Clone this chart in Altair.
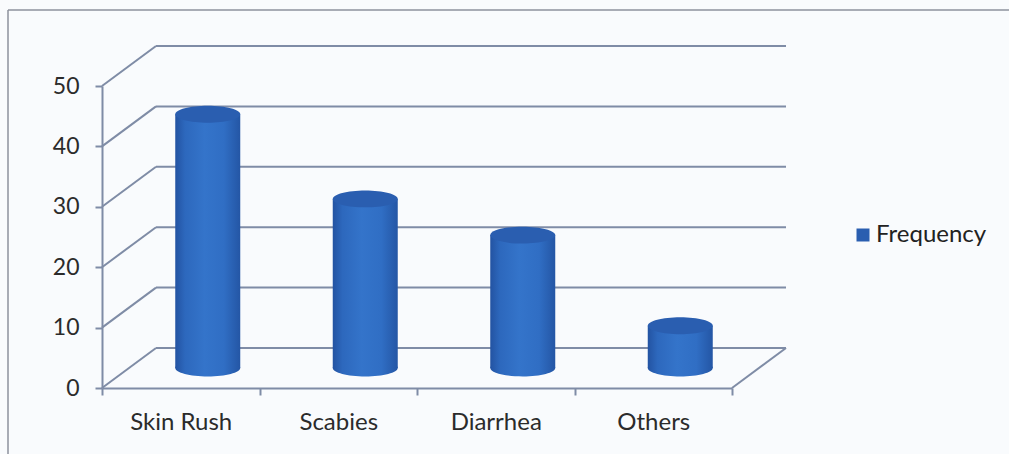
import altair as alt
import pandas as pd

# Values
categories = ["Skin Rush", "Scabies", "Diarrhea", "Others"]
frequency = [42, 28, 22, 7]
y_ticks = [0, 10, 20, 30, 40, 50]
series_name = "Frequency"

# Layout constants (pixels)
PLOT_W, PLOT_H = 630, 302
DEPTH_X, DEPTH_Y = 54, -40          # offset of the back wall
HALF_X, HALF_Y = 27, -20            # cylinders sit at mid depth
CYL_W = 65
FONT = "Lato"
LINE = "#7f8ca6"

bars = pd.DataFrame({"cat": categories, "freq": frequency, "series": series_name})
ticks = pd.DataFrame({"v": y_ticks})
one = pd.DataFrame({"v": [0]})

x_scale = alt.Scale(domain=categories, paddingInner=0, paddingOuter=0)
y_scale = alt.Scale(domain=[0, 50], nice=False, zero=True)

body_fill = alt.Gradient(
    gradient="linear", x1=0, x2=1, y1=0, y2=0,
    stops=[
        alt.GradientStop(color="#2353a2", offset=0),
        alt.GradientStop(color="#2d68bd", offset=0.15),
        alt.GradientStop(color="#3474ca", offset=0.45),
        alt.GradientStop(color="#306ec4", offset=0.75),
        alt.GradientStop(color="#2456a5", offset=1),
    ],
)
ellipse = "M-1,0A1,0.26,0,1,0,1,0A1,0.26,0,1,0,-1,0Z"

# Outer frame of the chart area
frame_left = alt.Chart(one).mark_rule(color="#8d929c", strokeWidth=1.5).encode(
    x=alt.value(-94), y=alt.value(-76), y2=alt.value(380)
)
frame_top = alt.Chart(one).mark_rule(color="#8d929c", strokeWidth=1.5).encode(
    x=alt.value(-94), x2=alt.value(910), y=alt.value(-76)
)

# Back wall gridlines (also the back edge of the floor)
grid = alt.Chart(ticks).mark_rule(
    color=LINE, strokeWidth=2, xOffset=DEPTH_X, x2Offset=DEPTH_X, yOffset=DEPTH_Y
).encode(
    x=alt.value(0), x2=alt.value(PLOT_W),
    y=alt.Y("v:Q", scale=y_scale, axis=alt.Axis(
        values=y_ticks, title=None, grid=False, domainColor=LINE, domainWidth=2,
        tickColor=LINE, tickWidth=2, tickSize=7, labelFont=FONT, labelFontSize=23,
        labelColor="#2b2b2b", labelPadding=16)),
)

# Side wall lines running from the front axis to the back wall
side = alt.Chart(ticks).mark_rule(color=LINE, strokeWidth=2, y2Offset=DEPTH_Y).encode(
    x=alt.value(0), x2=alt.value(DEPTH_X),
    y=alt.Y("v:Q", scale=y_scale), y2="v:Q",
)

# Right edge of the floor
floor_edge = alt.Chart(one).mark_rule(color=LINE, strokeWidth=2, y2Offset=DEPTH_Y).encode(
    x=alt.value(PLOT_W), x2=alt.value(PLOT_W + DEPTH_X),
    y=alt.Y("v:Q", scale=y_scale), y2="v:Q",
)

# Cylinders: bottom cap, body, top cap
bottom_cap = alt.Chart(bars).mark_point(
    shape=ellipse, size=CYL_W * CYL_W, filled=True, fill=body_fill, opacity=1,
    strokeWidth=0, xOffset=HALF_X, yOffset=HALF_Y,
).encode(x=alt.X("cat:N", scale=x_scale), y=alt.datum(0, scale=y_scale))

body = alt.Chart(bars).mark_bar(
    width=CYL_W, fill=body_fill, xOffset=HALF_X, x2Offset=HALF_X,
    yOffset=HALF_Y, y2Offset=HALF_Y,
).encode(
    x=alt.X("cat:N", scale=x_scale, sort=categories, axis=alt.Axis(
        title=None, labelAngle=0, labelAlign="center", domainColor=LINE, domainWidth=2,
        tickColor=LINE, tickWidth=2, tickSize=7, tickBand="extent", labelFont=FONT,
        labelFontSize=24, labelColor="#2b2b2b", labelPadding=27)),
    y=alt.Y("freq:Q", scale=y_scale),
    y2=alt.datum(0),
)

top_cap = alt.Chart(bars).mark_point(
    shape=ellipse, size=CYL_W * CYL_W, filled=True, opacity=1, strokeWidth=0,
    xOffset=HALF_X, yOffset=HALF_Y,
).encode(
    x=alt.X("cat:N", scale=x_scale),
    y=alt.Y("freq:Q", scale=y_scale),
    color=alt.Color("series:N", scale=alt.Scale(range=["#2a5eb0"]), legend=alt.Legend(
        title=None, orient="none", legendX=749, legendY=137, symbolType="square",
        symbolSize=169, symbolStrokeWidth=0, labelFont=FONT, labelFontSize=24,
        labelColor="#222222", labelOffset=1)),
)

chart = alt.layer(
    frame_left, frame_top, grid, side, floor_edge, bottom_cap, body, top_cap
).properties(
    width=PLOT_W, height=PLOT_H,
    autosize=alt.AutoSizeParams(type="none"),
    padding={"left": 102, "top": 86, "right": 277, "bottom": 66},
    background="#f9fbfd",
).configure_view(stroke=None)

chart.save("out.html", embed_options={"renderer": "svg", "actions": False})
